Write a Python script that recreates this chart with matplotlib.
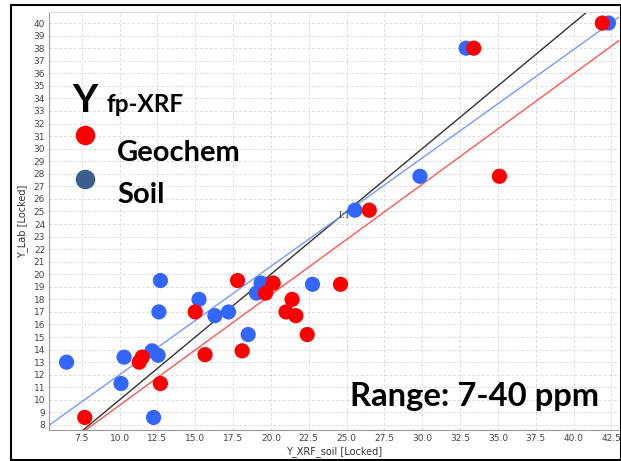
import numpy as np
import matplotlib
matplotlib.use("Agg")
import matplotlib.pyplot as plt
from matplotlib.patches import Rectangle

# soil fp-XRF vs lab (blue)
soil_x = [6.5, 10.3, 10.1, 12.7, 12.6, 12.15, 12.55, 12.25, 15.25, 16.3, 17.2,
          18.5, 19.05, 19.35, 22.75, 25.55, 29.85, 32.9, 42.3]
soil_y = [13.0, 13.4, 11.3, 19.5, 17.0, 13.9, 13.55, 8.6, 18.0, 16.7, 17.0,
          15.2, 18.5, 19.3, 19.2, 25.1, 27.8, 38.0, 40.0]

# geochem fp-XRF vs lab (red)
geo_x = [7.7, 11.3, 11.5, 12.7, 15.0, 15.65, 17.8, 18.1, 19.65, 20.15, 21.0,
         21.4, 21.65, 22.4, 24.6, 26.5, 35.1, 33.4, 41.9]
geo_y = [8.6, 13.0, 13.4, 11.3, 17.0, 13.6, 19.5, 13.9, 18.5, 19.3, 17.0,
         18.0, 16.7, 15.2, 19.2, 25.1, 27.8, 38.0, 40.0]

# fitted lines (slope, intercept)
soil_fit = (0.863, 3.37)
geo_fit = (0.880, 0.77)

x_ticks = np.arange(7.5, 43, 2.5)
y_ticks = np.arange(8, 41, 1)

W, H = 621, 461
fig = plt.figure(figsize=(W / 100, H / 100), dpi=100)
ax = fig.add_axes([49.3 / W, 1 - 430 / H, (619 - 49.3) / W, (430 - 12) / H])

xmin, xmax = 5.36, 43.0
ymin, ymax = 7.6, 40.88
ax.set_xlim(xmin, xmax)
ax.set_ylim(ymin, ymax)

ax.grid(True, color="#dddddd", linestyle=(0, (3, 2)), linewidth=0.7)
ax.set_axisbelow(True)

xx = np.array([xmin, xmax])
ax.plot(xx, xx, color="#333333", lw=1.0, zorder=2)
ax.plot(xx, soil_fit[0] * xx + soil_fit[1], color="#7799ff", lw=1.0, zorder=2)
ax.plot(xx, geo_fit[0] * xx + geo_fit[1], color="#ff5555", lw=1.0, zorder=2)

ax.scatter(soil_x, soil_y, s=120, color="#3366ff", edgecolors="none", zorder=3)
ax.scatter(geo_x, geo_y, s=120, color="#ff0000", edgecolors="none", zorder=3)
ax.text(24.35, 24.45, "1:1", fontsize=7, family="Liberation Serif",
        color="#333333", zorder=4)

ax.set_xticks(x_ticks)
ax.set_xticklabels([f"{v:.1f}" for v in x_ticks])
ax.set_yticks(y_ticks)
ax.tick_params(length=0, labelsize=6.5, colors="#444444", pad=3)
ax.set_xlabel("Y_XRF_soil [Locked]", fontsize=7, color="#333333", labelpad=2)
ax.set_ylabel("Y_Lab [Locked]", fontsize=7, color="#333333", labelpad=4)

for s in ["left", "bottom"]:
    ax.spines[s].set_color("#999999")
ax.spines["top"].set_color("#dddddd")
ax.spines["right"].set_visible(False)

# legend-like annotation
bold = dict(family="Lato", fontweight="bold", color="black")
fig.text(72 / W, 1 - 112 / H, "Y", fontsize=28, **bold)
fig.text(107 / W, 1 - 112 / H, "fp-XRF", fontsize=17.5, **bold)
fig.text(117 / W, 1 - 161 / H, "Geochem", fontsize=21, **bold)
fig.text(117 / W, 1 - 203 / H, "Soil", fontsize=21, **bold)
fig.text(350 / W, 1 - 406 / H, "Range: 7-40 ppm", fontsize=23.6, **bold)
ax.scatter([85 / W], [1 - 135 / H], s=170, color="#ff0000", transform=fig.transFigure,
           clip_on=False, zorder=5)
ax.scatter([85 / W], [1 - 179 / H], s=170, color="#3b5e8f", transform=fig.transFigure,
           clip_on=False, zorder=5)

# outer frame
fig.patches.append(Rectangle((11 / W, 1 - 460 / H), (W - 11) / W, (460 - 5) / H,
                             transform=fig.transFigure, fill=False,
                             edgecolor="black", lw=1.5))

fig.savefig("out.png", dpi=100)
